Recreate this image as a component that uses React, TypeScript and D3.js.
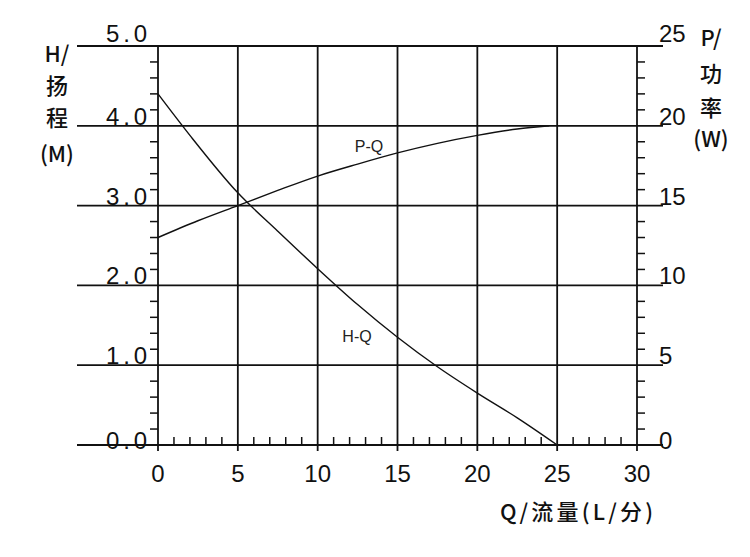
import React from "react";
import * as d3 from "d3";

// flow (L/min) vs head (m)
const flowHQ = [0, 2, 5, 7.5, 10, 12.5, 15, 17.5, 20, 22.5, 25];
const headHQ = [4.4, 3.88, 3.16, 2.68, 2.21, 1.76, 1.35, 0.98, 0.65, 0.34, 0];

// flow (L/min) vs power (W)
const flowPQ = [0, 2.5, 5, 7.5, 10, 12.5, 15, 17.5, 20, 22.5, 24.5];
const powerPQ = [13.0, 14.05, 15.0, 15.95, 16.85, 17.6, 18.3, 18.9, 19.4, 19.8, 20.0];

const flowTicks = [0, 5, 10, 15, 20, 25, 30];
const headTicks = [0, 1, 2, 3, 4, 5];
const powerTicks = [0, 5, 10, 15, 20, 25];

const leftTitle = ["H/", "扬", "程", "(M)"];
const rightTitle = ["P/", "功", "率", "(W)"];
const xTitle = "Q/流量(L/分)";

const W = 750;
const H = 557;
const ink = "#111";
const numFont = "'Liberation Sans', Arial, sans-serif";
const cjkFont = "'Noto Sans CJK SC', sans-serif";

export default function App() {
  const x = d3.scaleLinear().domain([0, 30]).range([158, 637]);
  const yH = d3.scaleLinear().domain([0, 5]).range([445, 46]);
  const yP = d3.scaleLinear().domain([0, 25]).range([445, 46]);

  const gridLeft = 77;
  const gridRight = 663;

  const hqLine = d3
    .line<number>()
    .x((_, i) => x(flowHQ[i]))
    .y((d) => yH(d))
    .curve(d3.curveMonotoneX);
  const pqLine = d3
    .line<number>()
    .x((_, i) => x(flowPQ[i]))
    .y((d) => yP(d))
    .curve(d3.curveMonotoneX);

  // minor ticks
  const headMinor = d3.range(0, 5.0001, 0.2).filter((v) => Math.abs(v - Math.round(v)) > 0.01);
  const powerMinor = d3.range(0, 25.0001, 1).filter((v) => v % 5 !== 0);
  const flowMinor = d3.range(0, 30.0001, 1).filter((v) => v % 5 !== 0);

  const labelDy = (v: number, top: number) => (v === 0 ? 4 : v === top ? -4 : -1);

  return (
    <svg
      width={W}
      height={H}
      style={{ position: "absolute", left: 0, top: 0, background: "#fff" }}
    >
      <rect width={W} height={H} fill="#fff" />

      {/* horizontal grid */}
      {headTicks.map((t) => (
        <line
          key={"h" + t}
          x1={gridLeft}
          x2={gridRight}
          y1={yH(t)}
          y2={yH(t)}
          stroke={ink}
          strokeWidth={1.8}
        />
      ))}

      {/* vertical grid */}
      {flowTicks.map((t) => (
        <line
          key={"v" + t}
          x1={x(t)}
          x2={x(t)}
          y1={yH(5)}
          y2={yH(0) + 6}
          stroke={ink}
          strokeWidth={1.8}
        />
      ))}

      {/* minor ticks */}
      {headMinor.map((t) => (
        <line key={"lm" + t} x1={x(0) - 8} x2={x(0)} y1={yH(t)} y2={yH(t)} stroke={ink} strokeWidth={1.5} />
      ))}
      {powerMinor.map((t) => (
        <line key={"rm" + t} x1={x(30)} x2={x(30) + 8} y1={yP(t)} y2={yP(t)} stroke={ink} strokeWidth={1.5} />
      ))}
      {flowMinor.map((t) => (
        <line key={"bm" + t} x1={x(t)} x2={x(t)} y1={yH(0) - 8} y2={yH(0)} stroke={ink} strokeWidth={1.5} />
      ))}

      {/* curves */}
      <path d={hqLine(headHQ) ?? ""} fill="none" stroke={ink} strokeWidth={1.4} />
      <path d={pqLine(powerPQ) ?? ""} fill="none" stroke={ink} strokeWidth={1.4} />

      <text x={369} y={152} textAnchor="middle" fontFamily={numFont} fontSize={16} fill="#222">
        P-Q
      </text>
      <text x={357} y={342} textAnchor="middle" fontFamily={numFont} fontSize={16} fill="#222">
        H-Q
      </text>

      {/* left tick labels */}
      {headTicks.map((t) => (
        <text
          key={"lt" + t}
          x={147}
          y={yH(t) + labelDy(t, 5)}
          textAnchor="end"
          fontFamily={numFont}
          fontSize={24}
          textLength={41}
          lengthAdjust="spacing"
          fill={ink}
        >
          {t.toFixed(1)}
        </text>
      ))}

      {/* right tick labels */}
      {powerTicks.map((t) => (
        <text
          key={"rt" + t}
          x={659}
          y={yP(t) + labelDy(t, 25)}
          fontFamily={numFont}
          fontSize={24}
          fill={ink}
        >
          {t}
        </text>
      ))}

      {/* bottom tick labels */}
      {flowTicks.map((t) => (
        <text
          key={"bt" + t}
          x={x(t)}
          y={482}
          textAnchor="middle"
          fontFamily={numFont}
          fontSize={24}
          fill={ink}
        >
          {t}
        </text>
      ))}

      {/* axis titles */}
      {leftTitle.map((s, i) => (
        <text
          key={"ltt" + i}
          x={57}
          y={[62, 94, 126, 162][i]}
          textAnchor="middle"
          fontFamily={cjkFont}
          fontSize={22}
          fontWeight={500}
          fill={ink}
        >
          {s}
        </text>
      ))}
      {rightTitle.map((s, i) => (
        <text
          key={"rtt" + i}
          x={711}
          y={[46, 82, 116, 147][i]}
          textAnchor="middle"
          fontFamily={cjkFont}
          fontSize={22}
          fontWeight={500}
          fill={ink}
        >
          {s}
        </text>
      ))}
      <text
        x={500}
        y={520}
        fontFamily={cjkFont}
        fontSize={22}
        fontWeight={500}
        textLength={153}
        lengthAdjust="spacing"
        fill={ink}
      >
        {xTitle}
      </text>
    </svg>
  );
}
